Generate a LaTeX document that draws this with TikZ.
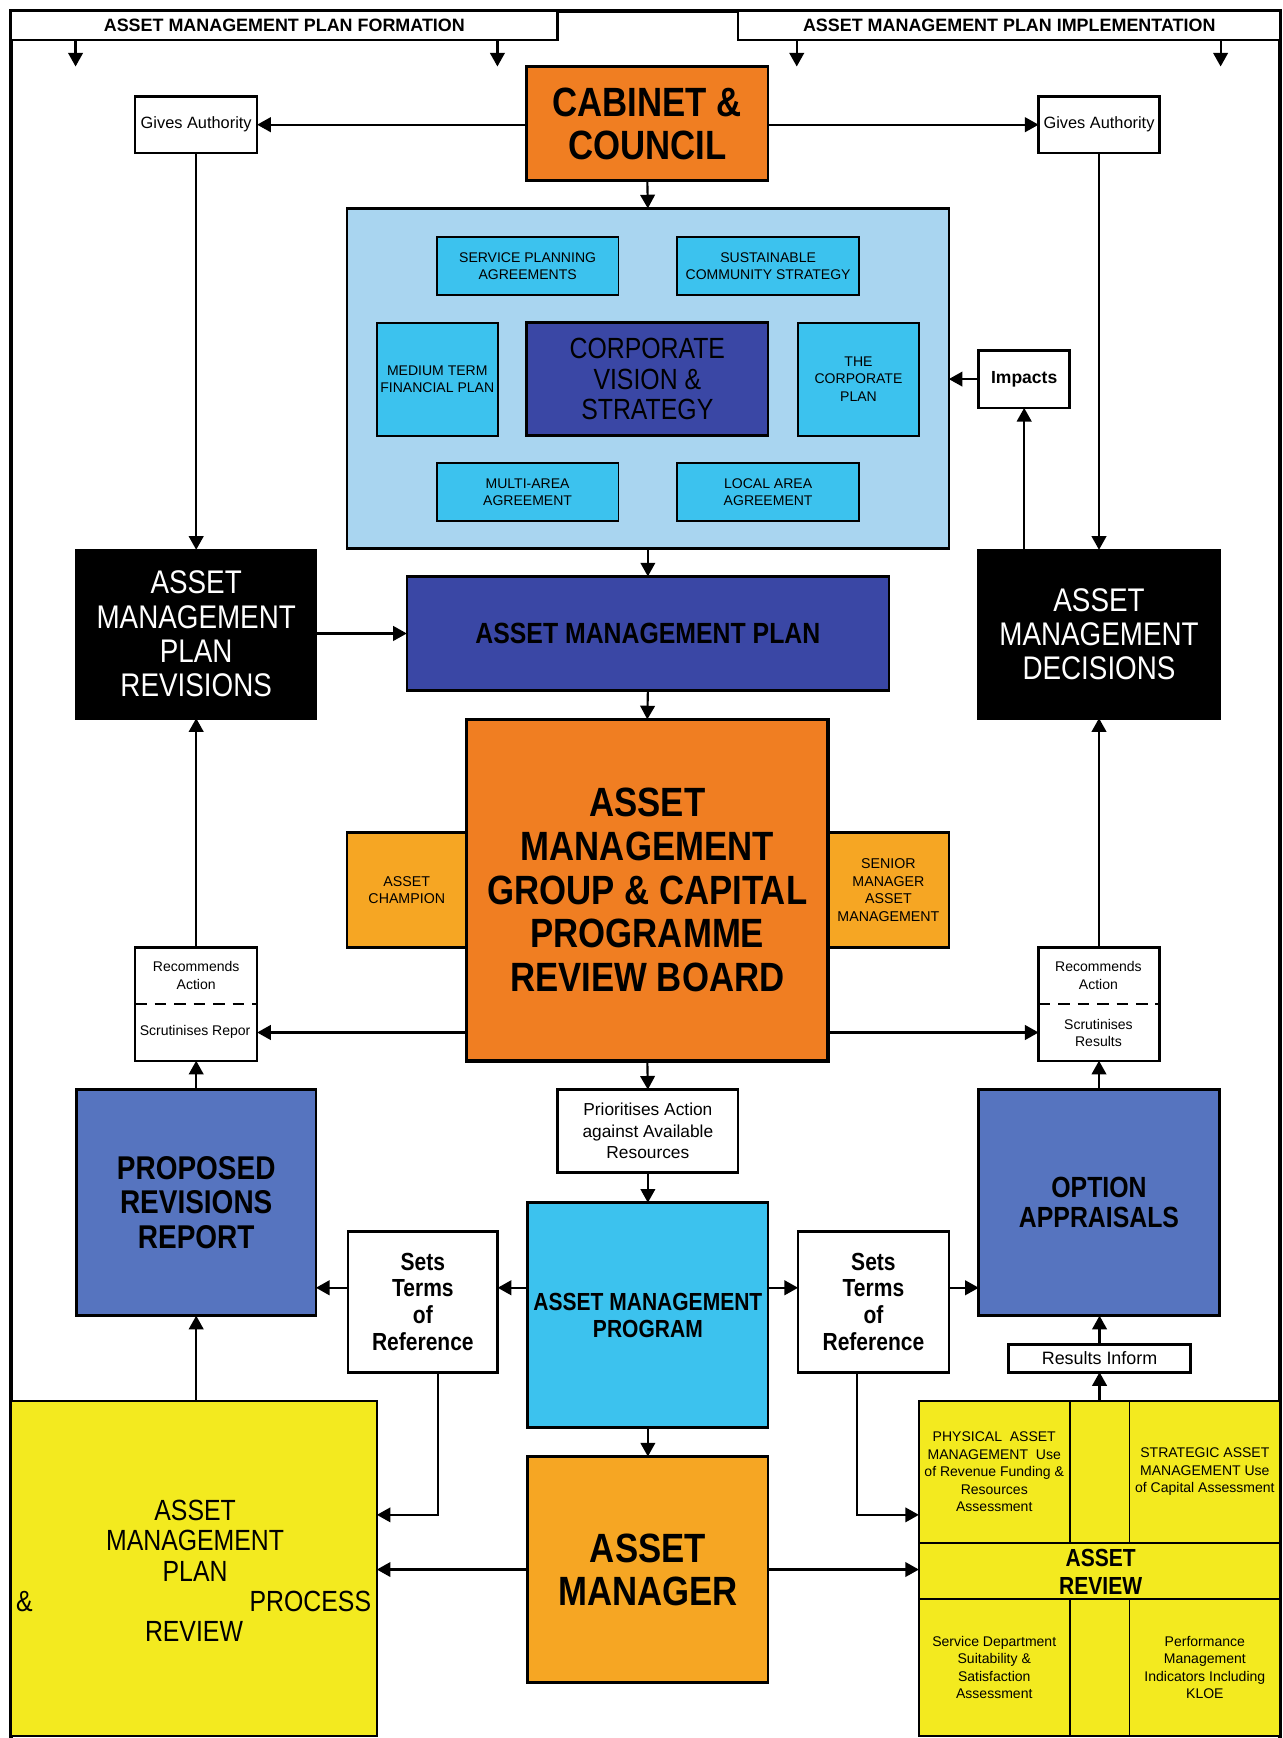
\documentclass[tikz,border=0pt]{standalone}
\usepackage{fontspec}
\setmainfont{Liberation Sans}
\newfontfamily\cf[FakeStretch=0.85]{Liberation Sans}
\usetikzlibrary{arrows.meta,calc}
\definecolor{corange}{HTML}{F07E22}
\definecolor{camber}{HTML}{F6A623}
\definecolor{lblue}{HTML}{A9D5F0}
\definecolor{cyanb}{HTML}{3CC2EE}
\definecolor{indigo1}{HTML}{3A47A5}
\definecolor{midblue}{HTML}{5674BF}
\definecolor{yellow1}{HTML}{F3EA1F}
\newcommand\fsz[2]{\fontsize{#1}{#2}\selectfont}
\newcommand\mybox[7]{\node[bx,#6,minimum width={(#4-#2)*0.02cm},minimum height={(#5-#3)*0.02cm}] (#1) at ({(#2+#4)/2},{(#3+#5)/2}) {#7};}
\begin{document}
\begin{tikzpicture}[x=0.02cm,y=-0.02cm,
  bx/.style={draw=black, line width=1.3pt, inner sep=0pt, outer sep=0pt, align=center, rectangle},
  tx/.style={inner sep=0pt, align=center},
  arr/.style={line width=1.1pt, -{Triangle[length=7pt,width=7.5pt]}},
  small/.style={font=\fsz{7.2}{9}},
  ln/.style={line width=1.1pt}]
\useasboundingbox (0,0) rectangle (1157,1568);
\fill[white] (0,0) rectangle (1157,1568);
% frame
\draw[line width=2pt] (10,1568) -- (10,10) -- (1155,10) -- (1155,1568);
% headers
\mybox{hd1}{10}{10}{503}{36}{fill=white,font=\fsz{9.2}{10}\bfseries}{ASSET MANAGEMENT PLAN FORMATION}
\mybox{hd2}{666}{10}{1155}{36}{fill=white,font=\fsz{9.2}{10}\bfseries}{ASSET MANAGEMENT PLAN IMPLEMENTATION}
\draw[arr] ($(hd1.south west)!0.118!(hd1.south east)$) -- ++(0,24);
\draw[arr] ($(hd1.south west)!0.890!(hd1.south east)$) -- ++(0,24);
\draw[arr] ($(hd2.south west)!0.108!(hd2.south east)$) -- ++(0,24);
\draw[arr] ($(hd2.south west)!0.890!(hd2.south east)$) -- ++(0,24);
% cabinet
\mybox{cab}{475}{60}{693}{163}{fill=corange,font=\cf\fsz{21}{22}\bfseries}{CABINET \&\\COUNCIL}
\mybox{ga1}{122}{87}{232}{138}{fill=white,font=\fsz{8.4}{10}}{Gives Authority}
\mybox{ga2}{937}{87}{1046}{138}{fill=white,font=\fsz{8.4}{10}}{Gives Authority}
% light blue area
\mybox{lb}{313}{188}{856}{495}{fill=lblue}{}
\mybox{spa}{394}{214}{558}{266}{fill=cyanb,line width=1pt,small}{SERVICE PLANNING\\AGREEMENTS}
\mybox{scs}{611}{214}{775}{266}{fill=cyanb,line width=1pt,small}{SUSTAINABLE\\COMMUNITY STRATEGY}
\mybox{mtf}{340}{291}{449}{393}{fill=cyanb,line width=1pt,small}{MEDIUM TERM\\FINANCIAL PLAN}
\mybox{cvs}{475}{291}{693}{393}{fill=indigo1,font=\cf\fsz{15}{15.6}}{CORPORATE\\VISION \&\\STRATEGY}
\mybox{tcp}{720}{291}{829}{393}{fill=cyanb,line width=1pt,small}{THE\\CORPORATE\\PLAN}
\mybox{maa}{394}{418}{558}{470}{fill=cyanb,line width=1pt,small}{MULTI-AREA\\AGREEMENT}
\mybox{laa}{611}{418}{775}{470}{fill=cyanb,line width=1pt,small}{LOCAL AREA\\AGREEMENT}
\mybox{imp}{883}{316}{965}{368}{fill=white,font=\fsz{9}{10}\bfseries}{Impacts}
% second row
\mybox{rev}{69}{496}{285}{648}{fill=black,text=white,font=\cf\fsz{16.8}{17.6}}{ASSET\\MANAGEMENT\\PLAN\\REVISIONS}
\mybox{amp}{367}{520}{802}{623}{fill=indigo1,font=\cf\fsz{15}{16}\bfseries}{ASSET MANAGEMENT PLAN}
\mybox{dec}{883}{496}{1100}{648}{fill=black,text=white,font=\cf\fsz{16.8}{17.6}}{ASSET\\MANAGEMENT\\DECISIONS}
% board
\mybox{cha}{313}{751}{421}{855}{fill=camber,font=\fsz{7.3}{9}}{ASSET\\CHAMPION}
\mybox{sma}{747}{751}{856}{855}{fill=camber,font=\fsz{7.3}{9}}{SENIOR\\MANAGER\\ASSET\\MANAGEMENT}
\mybox{big}{421}{649}{747}{957}{fill=corange,line width=1.8pt,font=\cf\fsz{21}{22.5}\bfseries}{ASSET\\MANAGEMENT\\GROUP \& CAPITAL\\PROGRAMME\\REVIEW BOARD}
% recommend boxes
\mybox{rc1}{122}{855}{232}{957}{fill=white}{}
\mybox{rc2}{937}{855}{1046}{957}{fill=white}{}
\draw[line width=1.1pt, dash pattern=on 6pt off 4pt] (rc1.west) -- (rc1.east);
\draw[line width=1.1pt, dash pattern=on 6pt off 4pt] (rc2.west) -- (rc2.east);
\node[tx,small] (rc1a) at (177,880) {Recommends\\Action};
\node[tx,small] (rc1b) at (176,931) {Scrutinises Repor};
\node[tx,small] (rc2a) at (991,880) {Recommends\\Action};
\node[tx,small] (rc2b) at (991,932) {Scrutinises\\Results};
% lower
\mybox{prr}{69}{983}{285}{1187}{fill=midblue,font=\cf\fsz{16.9}{17.6}\bfseries}{PROPOSED\\REVISIONS\\REPORT}
\mybox{oa}{883}{983}{1100}{1187}{fill=midblue,font=\cf\fsz{15}{15.4}\bfseries}{OPTION\\APPRAISALS}
\mybox{pri}{503}{983}{666}{1058}{fill=white,font=\fsz{8.9}{11}}{Prioritises Action\\against Available\\Resources}
\mybox{prog}{476}{1085}{693}{1288}{fill=cyanb,font=\cf\fsz{12.7}{13.7}\bfseries}{ASSET MANAGEMENT\\PROGRAM}
\mybox{st1}{314}{1111}{449}{1238}{fill=white,font=\cf\fsz{12.7}{13.8}\bfseries}{Sets\\Terms\\of\\Reference}
\mybox{st2}{720}{1111}{856}{1238}{fill=white,font=\cf\fsz{12.7}{13.8}\bfseries}{Sets\\Terms\\of\\Reference}
\mybox{res}{910}{1213}{1074}{1238}{fill=white,font=\fsz{9.2}{10}}{Results Inform}
\mybox{mgr}{476}{1314}{693}{1518}{fill=camber,font=\cf\fsz{21}{22.2}\bfseries}{ASSET\\MANAGER}
% yellow left
\mybox{ylw}{10}{1264}{340}{1566}{fill=yellow1}{}
\node[tx,font=\cf\fsz{15}{15.6}] (yt1) at (176,1390) {ASSET\\MANAGEMENT\\PLAN};
\node[tx,font=\cf\fsz{15}{15.6}] (yt2) at (22,1445) {\&};
\node[tx,font=\cf\fsz{15}{15.6}] (yt3) at (280,1445) {PROCESS};
\node[tx,font=\cf\fsz{15}{15.6}] (yt4) at (175,1472) {REVIEW};
% asset review
\mybox{arv}{829}{1264}{1155}{1566}{fill=yellow1}{}
\mybox{q1}{829}{1264}{965}{1392}{fill=yellow1,line width=1pt,small}{PHYSICAL\ \ ASSET\\MANAGEMENT\ \ Use\\of Revenue Funding \&\\Resources\\Assessment}
\mybox{q2}{1019}{1264}{1155}{1392}{fill=yellow1,line width=1pt,small}{STRATEGIC ASSET\\MANAGEMENT Use\\of Capital Assessment}
\mybox{q3}{829}{1443}{965}{1566}{fill=yellow1,line width=1pt,small}{Service Department\\Suitability \&\\Satisfaction\\Assessment}
\mybox{q4}{1019}{1443}{1155}{1566}{fill=yellow1,line width=1pt,small}{Performance\\Management\\Indicators Including\\KLOE}
\draw[line width=1pt] (q1.south east) -- (q2.south west);
\draw[line width=1pt] (q3.north east) -- (q4.north west);
\node[tx,font=\cf\fsz{12.7}{14.2}\bfseries] (arvt) at (993,1418) {ASSET\\REVIEW};
% connectors
\draw[arr] (cab.west |- ga1.east) -- (ga1.east);
\draw[arr] (cab.east |- ga2.west) -- (ga2.west);
\draw[arr] (cab.south) -- (lb.north);
\draw[arr] (ga1.south) -- (rev.north);
\draw[arr] (ga2.south) -- (dec.north);
\draw[arr] (imp.south |- dec.north) -- (imp.south);
\draw[arr] (imp.west) -- (lb.east |- imp.west);
\draw[arr] (lb.south) -- (amp.north);
\draw[arr] (rev.east |- amp.west) -- (amp.west);
\draw[arr] (amp.south) -- (big.north);
\coordinate (p1) at ($(rc1.north east)!0.75!(rc1.south east)$);
\coordinate (p2) at ($(rc2.north west)!0.75!(rc2.south west)$);
\draw[arr] (big.west |- p1) -- (p1);
\draw[arr] (big.east |- p2) -- (p2);
\draw[arr] (rc1.north) -- (rev.south);
\draw[arr] (rc2.north) -- (dec.south);
\draw[arr] (prr.north) -- (rc1.south);
\draw[arr] (oa.north) -- (rc2.south);
\draw[arr] (big.south) -- (pri.north);
\draw[arr] (pri.south) -- (prog.north);
\coordinate (s1) at ($(st1.north east)!0.4!(st1.south east)$);
\coordinate (s2) at ($(st2.north west)!0.4!(st2.south west)$);
\draw[arr] (prog.west |- s1) -- (s1);
\draw[arr] (st1.west |- s1) -- (prr.east |- s1);
\draw[arr] (prog.east |- s2) -- (s2);
\draw[arr] (st2.east |- s2) -- (oa.west |- s2);
\draw[arr] (res.north) -- (res.north |- oa.south);
\draw[arr] (res.south |- arv.north) -- (res.south);
\draw[arr] (prog.south) -- (mgr.north);
\draw[arr] (prr.south |- ylw.north) -- (prr.south);
\coordinate (b1) at ($(st1.south west)!0.6!(st1.south east)$);
\coordinate (y1) at ($(ylw.north east)!0.34!(ylw.south east)$);
\coordinate (b2) at ($(st2.south west)!0.39!(st2.south east)$);
\coordinate (y2) at ($(arv.north west)!0.34!(arv.south west)$);
\draw[arr] (b1) |- (y1);
\draw[arr] (b2) |- (y2);
\draw[arr] (mgr.west) -- (ylw.east |- mgr.west);
\draw[arr] (mgr.east) -- (arv.west |- mgr.east);
\end{tikzpicture}
\end{document}
